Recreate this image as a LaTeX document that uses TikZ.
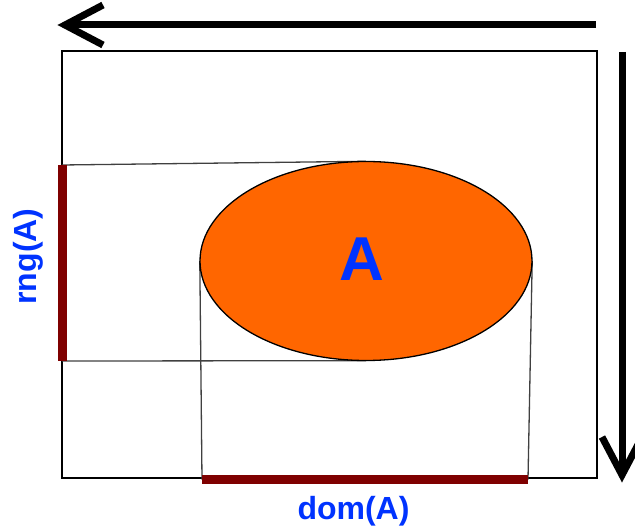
\documentclass[tikz,border=0pt]{standalone}
\usepackage{fontspec}
\setmainfont{Liberation Sans}
\usetikzlibrary{arrows.meta,shapes.geometric}
\definecolor{setorange}{HTML}{FF6600}
\definecolor{barred}{HTML}{7F0000}
\definecolor{lblblue}{HTML}{0033FF}
\tikzset{
  axisline/.style={line width=7pt},
  axishead/.style={line width=7pt,miter limit=10},
  projline/.style={draw=black!75,line width=1.3pt},
  projbar/.style={draw=barred,line width=9pt},
  lbl/.style={text=lblblue,font=\bfseries\fontsize{32}{38}\selectfont,inner sep=0pt},
}
\begin{document}
\begin{tikzpicture}[x=1pt,y=1pt]
\useasboundingbox (0,0) rectangle (635,528);
% frame
\draw[line width=1.8pt] (62,50) rectangle (597,477);
% set A
\node[ellipse,minimum width=332pt,minimum height=199pt,inner sep=0pt] (A) at (366,267) {};
% coordinates
\coordinate (rtop) at (62,363);
\coordinate (rbot) at (62,167);
\coordinate (dl) at (202,48.5);
\coordinate (dr) at (528,48.5);
% projection lines
\draw[projline] (rtop) -- (A.north);
\draw[projline] (rbot) -- (A.south);
\draw[projline] (A.west) -- (dl);
\draw[projline] (A.east) -- (dr);
% ellipse filled on top
\node[ellipse,minimum width=332pt,minimum height=199pt,inner sep=0pt,fill=setorange,draw=black,line width=1.3pt] (Afill) at (A) {};
% bars
\draw[projbar] (rtop) -- (rbot);
\draw[projbar] (dl) -- (dr);
% axis arrows
\coordinate (hs) at (596,503);
\coordinate (he) at (65,503);
\coordinate (ha1) at (103,523);
\coordinate (ha2) at (103,483);
\coordinate (vs) at (622,476);
\coordinate (ve) at (622,53);
\coordinate (va1) at (602,91);
\coordinate (va2) at (642,91);
\draw[axisline] (hs) -- (he);
\draw[axishead] (ha1) -- (he) -- (ha2);
\draw[axisline] (vs) -- (ve);
\draw[axishead] (va1) -- (ve) -- (va2);
% labels
\node[lbl,font=\bfseries\fontsize{62}{70}\selectfont,anchor=base] (Alabel) at (362,247) {A};
\node[lbl,anchor=base] (dom) at (353.5,9) {dom(A)};
\node[lbl,anchor=base,rotate=90] (rng) at (36,271.5) {rng(A)};
\end{tikzpicture}
\end{document}
